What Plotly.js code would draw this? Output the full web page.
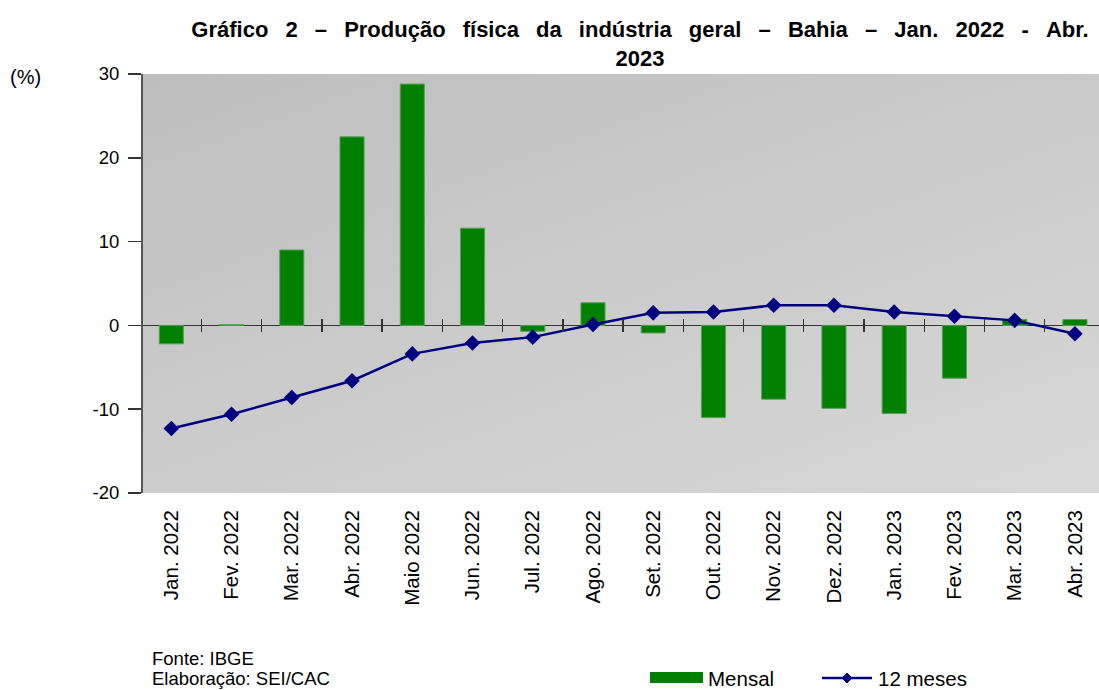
<!DOCTYPE html>
<html>
<head>
<meta charset="utf-8">
<script src="https://cdn.plot.ly/plotly-3.0.1.min.js"></script>
<style>
  html, body { margin: 0; padding: 0; background: #ffffff; overflow: hidden; }
  #wrap { position: relative; width: 1099px; height: 690px; }
  #bg { position: absolute; left: 143px; top: 74px; width: 956px; height: 419px;
        background: linear-gradient(160deg, #bebebe 0%, #cbcbcb 50%, #d8d8d8 100%); }
  #chart { position: absolute; left: 0; top: 0; width: 1099px; height: 690px; }
</style>
</head>
<body>
<div id="wrap">
  <div id="bg"></div>
  <div id="chart"></div>
</div>
<script>
const categories = ["Jan. 2022","Fev. 2022","Mar. 2022","Abr. 2022","Maio 2022","Jun. 2022","Jul. 2022","Ago. 2022","Set. 2022","Out. 2022","Nov. 2022","Dez. 2022","Jan. 2023","Fev. 2023","Mar. 2023","Abr. 2023"];
const mensal = [-2.2, 0.1, 9.0, 22.5, 28.8, 11.6, -0.7, 2.7, -0.9, -11.0, -8.8, -9.9, -10.5, -6.3, 0.7, 0.7];
const dozeMeses = [-12.3, -10.6, -8.6, -6.6, -3.4, -2.1, -1.4, 0.1, 1.5, 1.6, 2.4, 2.4, 1.6, 1.1, 0.6, -1.0];
const yTicks = [30, 20, 10, 0, -10, -20];
const yTickText = ["30", "20", "10", "0", "-10", "-20"];
const titleLine1 = "Gráfico 2 – Produção física da indústria geral – Bahia – Jan. 2022 - Abr.";
const titleLine2 = "2023";

const idx = categories.map((_, i) => i);
const boundaries = categories.slice(1).map((_, i) => i + 0.5);
const xRange = [-0.47, 15.4];

// widen word gaps like the justified title of the original
const wideTitle = titleLine1.split(" ").join(" \u2002");

const font = { family: "Liberation Sans, Arial, sans-serif", color: "#000000" };
const f = (size) => Object.assign({}, font, { size: size });

const traces = [
  {
    type: "bar", name: "Mensal", x: idx, y: mensal,
    width: 0.4,
    marker: { color: "#008000", line: { color: "#5a9e5a", width: 1 } },
    hoverinfo: "skip", showlegend: false
  },
  {
    type: "scatter", mode: "lines+markers", name: "12 meses", x: idx, y: dozeMeses,
    line: { color: "#000080", width: 2.5 },
    marker: { symbol: "diamond", size: 12, color: "#000080" },
    hoverinfo: "skip", showlegend: false
  },
  // carriers for the tick axes that cross the zero line (draw nothing)
  { type: "scatter", mode: "none", x: idx, y: mensal, xaxis: "x2", yaxis: "y", showlegend: false, hoverinfo: "skip" },
  { type: "scatter", mode: "none", x: idx, y: mensal, xaxis: "x3", yaxis: "y", showlegend: false, hoverinfo: "skip" }
];

const L = (px) => (px - 143) / 956;   // paper x from page pixel
const T = (py) => (493 - py) / 419;   // paper y from page pixel

const layout = {
  width: 1099, height: 690,
  margin: { l: 143, r: 0, t: 74, b: 197, pad: 0 },
  paper_bgcolor: "rgba(0,0,0,0)",
  plot_bgcolor: "rgba(0,0,0,0)",
  showlegend: false,
  font: f(18),
  title: {
    text: "<b>" + wideTitle + "<br>" + titleLine2 + "</b>",
    font: f(22),
    x: L(640), xanchor: "center", xref: "paper",
    y: T(40), yanchor: "bottom", yref: "paper",
    pad: { b: 0 }
  },
  xaxis: {
    type: "linear",
    range: xRange,
    tickvals: idx, ticktext: categories,
    tickangle: -90,
    ticks: "", showline: false, showgrid: false, zeroline: false,
    tickfont: f(20.5),
    ticklabelstandoff: 12,
    fixedrange: true
  },
  xaxis2: {
    overlaying: "x", anchor: "free", position: 0.4,
    type: "linear", range: xRange,
    tickvals: boundaries, ticks: "outside", ticklen: 6, tickwidth: 1.3, tickcolor: "#333333",
    showticklabels: false, showline: false, showgrid: false, zeroline: false
  },
  xaxis3: {
    overlaying: "x", anchor: "free", position: 0.4,
    type: "linear", range: xRange,
    tickvals: boundaries, ticks: "inside", ticklen: 6, tickwidth: 1.3, tickcolor: "#333333",
    showticklabels: false, showline: false, showgrid: false, zeroline: false
  },
  yaxis: {
    range: [-20, 30],
    tickvals: yTicks, ticktext: yTickText,
    ticks: "outside", ticklen: 13, tickwidth: 1.5, tickcolor: "#333333",
    showline: true, linecolor: "#555555", linewidth: 2,
    showgrid: false,
    zeroline: true, zerolinecolor: "#333333", zerolinewidth: 1.5,
    tickfont: f(18.5),
    ticklabelstandoff: 5,
    fixedrange: true
  },
  shapes: [
    { type: "rect", xref: "paper", yref: "paper", x0: L(650), x1: L(703), y0: T(683), y1: T(672),
      fillcolor: "#008000", line: { width: 0 } },
    { type: "line", xref: "paper", yref: "paper", x0: L(822), x1: L(872), y0: T(678), y1: T(678),
      line: { color: "#000080", width: 2.5 } },
    { type: "path", xref: "paper", yref: "paper", xsizemode: "pixel", ysizemode: "pixel",
      xanchor: L(847), yanchor: T(678), path: "M -5 0 L 0 5 L 5 0 L 0 -5 Z",
      fillcolor: "#000080", line: { color: "#000080", width: 1 } }
  ],
  annotations: [
    { text: "(%)", xref: "paper", yref: "paper", x: L(8), y: T(77), xanchor: "left", yanchor: "middle",
      showarrow: false, font: f(20) },
    { text: "Fonte: IBGE", xref: "paper", yref: "paper", x: L(150), y: T(658), xanchor: "left", yanchor: "middle",
      showarrow: false, font: f(18.5) },
    { text: "Elaboração: SEI/CAC", xref: "paper", yref: "paper", x: L(150), y: T(678), xanchor: "left", yanchor: "middle",
      showarrow: false, font: f(18.5) },
    { text: "Mensal", xref: "paper", yref: "paper", x: L(706), y: T(678), xanchor: "left", yanchor: "middle",
      showarrow: false, font: f(20.5) },
    { text: "12 meses", xref: "paper", yref: "paper", x: L(876), y: T(678), xanchor: "left", yanchor: "middle",
      showarrow: false, font: f(20.5) }
  ]
};

Plotly.newPlot("chart", traces, layout, { displayModeBar: false, staticPlot: true });
</script>
</body>
</html>
